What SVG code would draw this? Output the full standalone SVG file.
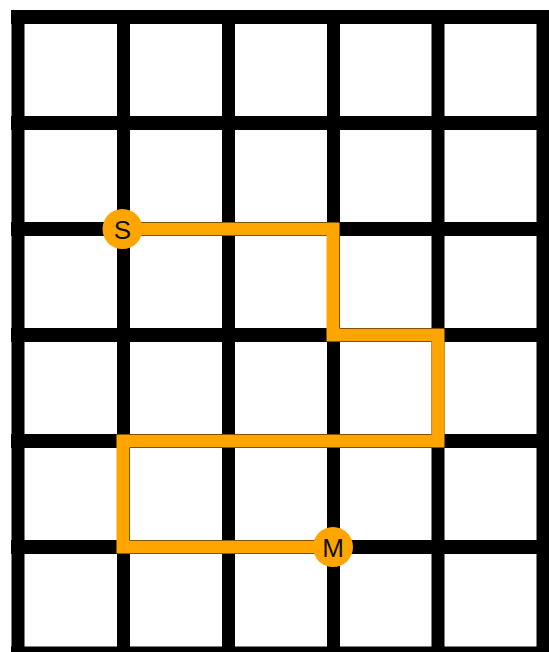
<svg xmlns="http://www.w3.org/2000/svg" width="549" height="652" viewBox="0 0 549 652">
<style>
.grid line{stroke:#000;stroke-linecap:square}
.v{stroke-width:13}
.h{stroke-width:14}
.path{fill:none;stroke:#FFA500;stroke-width:13;stroke-linejoin:miter;stroke-linecap:butt}
.node circle{fill:#FFA500}
.node text{font-family:"Liberation Sans",Arial,sans-serif;font-size:26px;fill:#111;text-anchor:middle}
</style>
<rect width="549" height="652" fill="#fff"/>
<g class="grid" id="grid">
<line class="v" x1="18" y1="17" x2="18" y2="660"/>
<line class="v" x1="123.5" y1="17" x2="123.5" y2="660"/>
<line class="v" x1="228.5" y1="17" x2="228.5" y2="660"/>
<line class="v" x1="333.5" y1="17" x2="333.5" y2="660"/>
<line class="v" x1="438" y1="17" x2="438" y2="660"/>
<line class="v" x1="543" y1="17" x2="543" y2="660"/>
<line class="h" x1="18" y1="17" x2="560" y2="17"/>
<line class="h" x1="18" y1="123" x2="560" y2="123"/>
<line class="h" x1="18" y1="229" x2="560" y2="229"/>
<line class="h" x1="18" y1="335" x2="560" y2="335"/>
<line class="h" x1="18" y1="441" x2="560" y2="441"/>
<line class="h" x1="18" y1="547" x2="560" y2="547"/>
<line class="h" x1="18" y1="653.5" x2="560" y2="653.5"/>
</g>
<g id="connectors">
<path class="path" d="M123,229 H333 V335 H438 V441 H123 V547 H333"/>
</g>
<g class="node" id="node-S">
<circle cx="122.5" cy="229" r="20"/>
<text x="122.5" y="238.5">S</text>
</g>
<g class="node" id="node-M">
<circle cx="333" cy="547" r="20"/>
<text x="333" y="556.5">M</text>
</g>
</svg>
